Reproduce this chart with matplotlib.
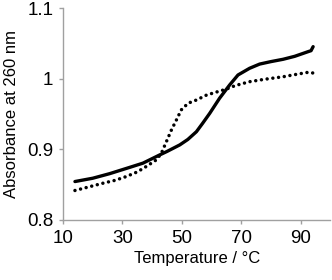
import numpy as np
import matplotlib.pyplot as plt

plt.rcParams['font.family'] = ['Liberation Sans', 'DejaVu Sans']

# solid curve
t_solid = [14, 20, 25.7, 32.5, 36.9, 42.5, 45, 49.3, 52, 54.9, 57, 59.4, 62.7, 66.1,
           68.9, 72.8, 76.2, 80, 84.1, 88, 92.5, 93.5, 94.2]
a_solid = [0.8543, 0.859, 0.8655, 0.8745, 0.8804, 0.892, 0.897, 0.9063, 0.914, 0.925,
           0.937, 0.9512, 0.9725, 0.9914, 1.0055, 1.015, 1.021, 1.0245, 1.0278, 1.032,
           1.0386, 1.040, 1.0457]

# dotted curve
t_dot = [14, 18.5, 23.5, 27.5, 31.3, 35, 38, 41.4, 43.1, 44.8, 46.5, 48.2, 49.8, 52.1,
         54.9, 58.3, 62.2, 65, 68, 72.8, 78, 84.1, 88, 92.5, 94.7]
a_dot = [0.8416, 0.8465, 0.852, 0.856, 0.8614, 0.868, 0.8756, 0.885, 0.8945, 0.911,
         0.9276, 0.942, 0.956, 0.9654, 0.970, 0.977, 0.982, 0.9855, 0.9905, 0.996,
         0.9995, 1.003, 1.006, 1.0093, 1.008]

fig = plt.figure(figsize=(3.32, 2.8), dpi=100)
ax = fig.add_axes([0.19, 0.215, 0.805, 0.755])

ax.plot(t_solid, a_solid, color='black', lw=2.4, solid_capstyle='round',
        solid_joinstyle='round')
ax.plot(t_dot, a_dot, color='black', lw=2.5, linestyle=(0, (0.01, 1.65)),
        dash_capstyle='round')

ax.set_xlim(10, 100)
ax.set_ylim(0.8, 1.1)
ax.set_xticks([10, 30, 50, 70, 90])
ax.set_yticks([0.8, 0.9, 1.0, 1.1])
ax.set_yticklabels(['0.8', '0.9', '1', '1.1'])

for s in ['top', 'right']:
    ax.spines[s].set_visible(False)
for s in ['left', 'bottom']:
    ax.spines[s].set_color('#a0a0a0')
    ax.spines[s].set_linewidth(1.0)
ax.tick_params(colors='#a0a0a0', labelcolor='black', length=3, width=1.0,
               labelsize=13.5, pad=4)

ax.set_xlabel('Temperature / °C', fontsize=12, labelpad=3)
ax.set_ylabel('Absorbance at 260 nm', fontsize=12, labelpad=6)

fig.savefig('out.png', dpi=100)
